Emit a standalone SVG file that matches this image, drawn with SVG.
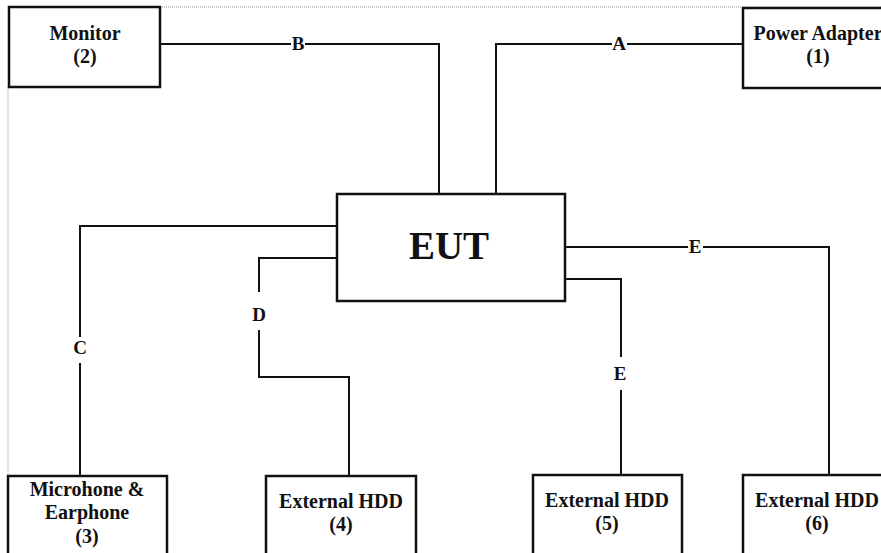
<svg xmlns="http://www.w3.org/2000/svg" width="881" height="553" viewBox="0 0 881 553">
<style>
.box{fill:#fff;stroke:#111;stroke-width:2.5}
.wire{fill:none;stroke:#111;stroke-width:2}
.t{font-family:"Liberation Serif","Times New Roman",serif;font-weight:bold;font-size:20px;fill:#111;text-anchor:middle}
.lbl{font-family:"Liberation Serif","Times New Roman",serif;font-weight:bold;font-size:19px;fill:#111;text-anchor:middle}
.big{font-family:"Liberation Serif","Times New Roman",serif;font-weight:bold;font-size:39px;fill:#111;text-anchor:middle}
.dot{fill:none;stroke:#999;stroke-width:1;stroke-dasharray:1 1}
</style>
<rect width="881" height="553" fill="#fff"/>
<path class="dot" d="M160 7 H881 M8 87 V476"/>
<g id="connectors">
<path class="wire" d="M160 44 H291 M305 44 H439 V194"/>
<path class="wire" d="M743 44 H627 M612 44 H496 V194"/>
<path class="wire" d="M337 226 H80 V337 M80 363 V476"/>
<path class="wire" d="M337 258 H259 V292 M259 330 V377 H349 V476"/>
<path class="wire" d="M565 247 H688 M703 247 H829 V476"/>
<path class="wire" d="M565 279 H621 V357 M621 390 V475"/>
<text class="lbl" x="298" y="50">B</text>
<text class="lbl" x="619" y="50">A</text>
<text class="lbl" x="80" y="354">C</text>
<text class="lbl" x="259" y="321">D</text>
<text class="lbl" x="695" y="253">E</text>
<text class="lbl" x="620" y="380">E</text>
</g>
<g id="monitor">
<rect class="box" x="9" y="7" width="151" height="80"/>
<text class="t" x="85" y="40">Monitor</text>
<text class="t" x="85" y="63">(2)</text>
</g>
<g id="power-adapter">
<rect class="box" x="743" y="8" width="150" height="80"/>
<text class="t" x="818" y="40">Power Adapter</text>
<text class="t" x="818" y="63">(1)</text>
</g>
<g id="eut">
<rect class="box" x="337" y="194" width="228" height="107"/>
<text class="big" x="449" y="259">EUT</text>
</g>
<g id="microphone">
<rect class="box" x="8" y="476" width="159" height="90"/>
<text class="t" x="87" y="496">Microhone &amp;</text>
<text class="t" x="87" y="519">Earphone</text>
<text class="t" x="87" y="543">(3)</text>
</g>
<g id="hdd4">
<rect class="box" x="266" y="476" width="150" height="90"/>
<text class="t" x="341" y="508">External HDD</text>
<text class="t" x="341" y="531">(4)</text>
</g>
<g id="hdd5">
<rect class="box" x="533" y="475" width="149" height="90"/>
<text class="t" x="607" y="507">External HDD</text>
<text class="t" x="607" y="530">(5)</text>
</g>
<g id="hdd6">
<rect class="box" x="743" y="475" width="150" height="90"/>
<text class="t" x="817" y="507">External HDD</text>
<text class="t" x="817" y="530">(6)</text>
</g>
</svg>
